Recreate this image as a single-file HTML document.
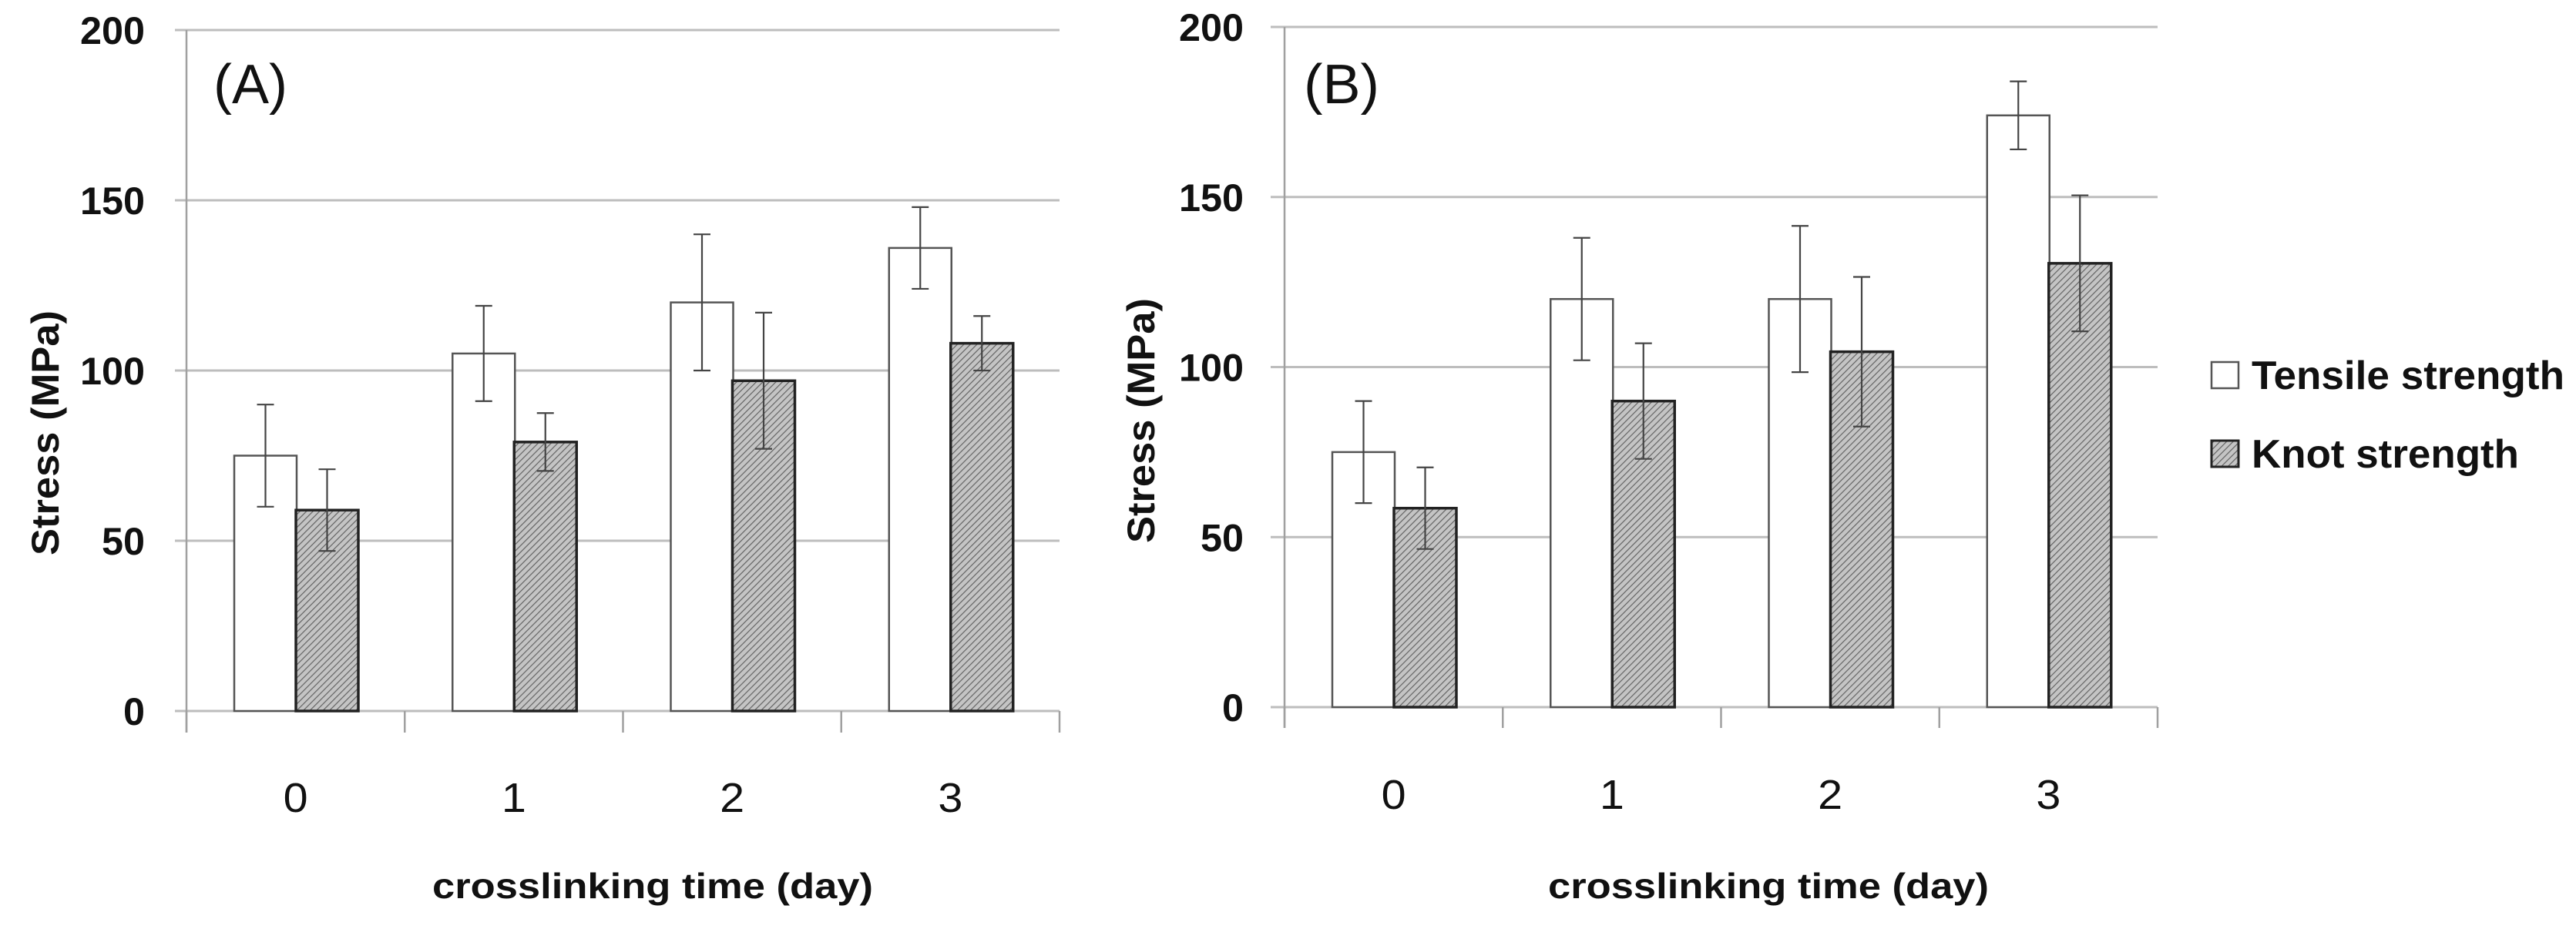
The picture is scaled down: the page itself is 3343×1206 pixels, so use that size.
<!DOCTYPE html>
<html><head><meta charset="utf-8"><style>
html,body{margin:0;padding:0;background:#fff;}
svg{display:block;font-family:"Liberation Sans",Arial,sans-serif;}
</style></head><body>
<svg id="fig" width="3343" height="1206" viewBox="0 0 3343 1206" xmlns="http://www.w3.org/2000/svg">
<defs>
<pattern id="hatch" width="6" height="6" patternUnits="userSpaceOnUse" patternTransform="rotate(45)">
<rect width="6" height="6" fill="#c4c4c4"/><line x1="0" y1="0" x2="0" y2="6" stroke="#606060" stroke-width="2.3"/>
</pattern>
</defs>
<g id="legend">
<rect x="2870" y="470" width="35" height="34" fill="#fff" stroke="#555" stroke-width="2.5"/>
<text x="2922" y="505" font-size="52" font-weight="bold" fill="#111" textLength="406" lengthAdjust="spacingAndGlyphs">Tensile strength</text>
<rect x="2870" y="572" width="35" height="34" fill="url(#hatch)" stroke="#222" stroke-width="3"/>
<text x="2922" y="607" font-size="52" font-weight="bold" fill="#111" textLength="347" lengthAdjust="spacingAndGlyphs">Knot strength</text>
</g>
</svg>
<script>
const categories = ["0","1","2","3"];
const yTicks = [0,50,100,150,200];
const tensileA = [75,105,120,136];
const tensileErrA = [15,14,20,12];
const knotA = [59,79,97,108];
const knotErrA = [12,8.5,20,8];
const tensileB = [75,120,120,174];
const tensileErrB = [15,18,21.5,10];
const knotB = [58.5,90,104.5,130.5];
const knotErrB = [12,17,22,20];

const NS = "http://www.w3.org/2000/svg";
const svg = document.getElementById('fig');
function mk(tag, attrs, parent, text){
  const e = document.createElementNS(NS, tag);
  for (const k in attrs) e.setAttribute(k, attrs[k]);
  if (text !== undefined) e.textContent = text;
  parent.appendChild(e);
  return e;
}
function panel(cfg){
  const g = mk('g', {}, svg);
  
  
  const catW = (cfg.x1 - cfg.x0) / categories.length;
  const y = v => cfg.yZero - (v / 200) * (cfg.yZero - cfg.yTop);
  const xc = i => cfg.x0 + i * catW;
  yTicks.forEach(t => {
    const l = mk('line', {x1: cfg.gridStart, x2: cfg.x1, y1: y(t), y2: y(t), stroke: '#bdbdbd', 'stroke-width': 3}, g);
    
    
    const tx = mk('text', {x: cfg.tickRight, y: y(t) + 18, 'text-anchor': 'end', 'font-size': 50, 'font-weight': 'bold', fill: '#111', textLength: String(t).length * 28, lengthAdjust: 'spacingAndGlyphs'}, g, String(t));
    
    
  });
  const ya = mk('line', {x1: cfg.x0, x2: cfg.x0, y1: cfg.yTop, y2: cfg.tickBottom, stroke: '#a0a0a0', 'stroke-width': 2.5}, g);
  
  
  for (let i = 0; i <= categories.length; i++) {
    const t = mk('line', {x1: xc(i), x2: xc(i), y1: cfg.yZero, y2: cfg.tickBottom, stroke: '#a0a0a0', 'stroke-width': 2.5}, g);
    
    
  }
  categories.forEach((c, i) => {
    const cx = xc(i) + catW * 0.5;
    const tl = mk('text', {x: cx, y: cfg.labelY, 'text-anchor': 'middle', 'font-size': 54, fill: '#111', textLength: 32, lengthAdjust: 'spacingAndGlyphs'}, g, c);
    
    
    const series = [
      {v: cfg.tensile[i], e: cfg.tensileErr[i], off: 62, fill: '#fff', stroke: '#555', sw: 2.5, name: 'tensile'},
      {v: cfg.knot[i], e: cfg.knotErr[i], off: 142, fill: 'url(#hatch)', stroke: '#222', sw: 3.5, name: 'knot'}
    ];
    series.forEach(s => {
      const bx = xc(i) + s.off, bw = 81;
      const r = mk('rect', {x: bx, y: y(s.v), width: bw, height: y(0) - y(s.v), fill: s.fill, stroke: s.stroke, 'stroke-width': s.sw}, g);
      
      
      const mx = bx + bw / 2;
      const eg = mk('g', {stroke: '#444', 'stroke-width': 2.2}, g);
      
      
      mk('line', {x1: mx, x2: mx, y1: y(s.v + s.e), y2: y(s.v - s.e)}, eg);
      mk('line', {x1: mx - 11, x2: mx + 11, y1: y(s.v + s.e), y2: y(s.v + s.e)}, eg);
      mk('line', {x1: mx - 11, x2: mx + 11, y1: y(s.v - s.e), y2: y(s.v - s.e)}, eg);
    });
  });
  const xt = mk('text', {x: cfg.titleX, y: 1166, 'text-anchor': 'middle', 'font-size': 46, 'font-weight': 'bold', fill: '#111', textLength: 572, lengthAdjust: 'spacingAndGlyphs'}, g, 'crosslinking time (day)');
  
  
  const yt = mk('text', {x: 0, y: 0, 'text-anchor': 'middle', 'font-size': 50, 'font-weight': 'bold', fill: '#111', textLength: 318, lengthAdjust: 'spacingAndGlyphs', transform: 'translate(' + cfg.yTitleX + ',' + cfg.yTitleY + ') rotate(-90)'}, g, 'Stress (MPa)');
  
  
  const pl = mk('text', {x: cfg.plX, y: 134, 'font-size': 72, fill: '#111', textLength: cfg.plW, lengthAdjust: 'spacingAndGlyphs'}, g, cfg.label);
  
  
}
panel({id: 'a', label: '(A)', x0: 242, x1: 1375, yTop: 39, yZero: 923, tickBottom: 951, gridStart: 227, tickRight: 188, labelY: 1054, titleX: 847, yTitleX: 76, yTitleY: 562, plX: 277, plW: 96,
  tensile: tensileA, tensileErr: tensileErrA, knot: knotA, knotErr: knotErrA});
panel({id: 'b', label: '(B)', x0: 1667, x1: 2800, yTop: 35, yZero: 918, tickBottom: 945, gridStart: 1649, tickRight: 1614, labelY: 1050, titleX: 2295, yTitleX: 1498, yTitleY: 546, plX: 1692, plW: 98,
  tensile: tensileB, tensileErr: tensileErrB, knot: knotB, knotErr: knotErrB});
</script>
</body></html>
